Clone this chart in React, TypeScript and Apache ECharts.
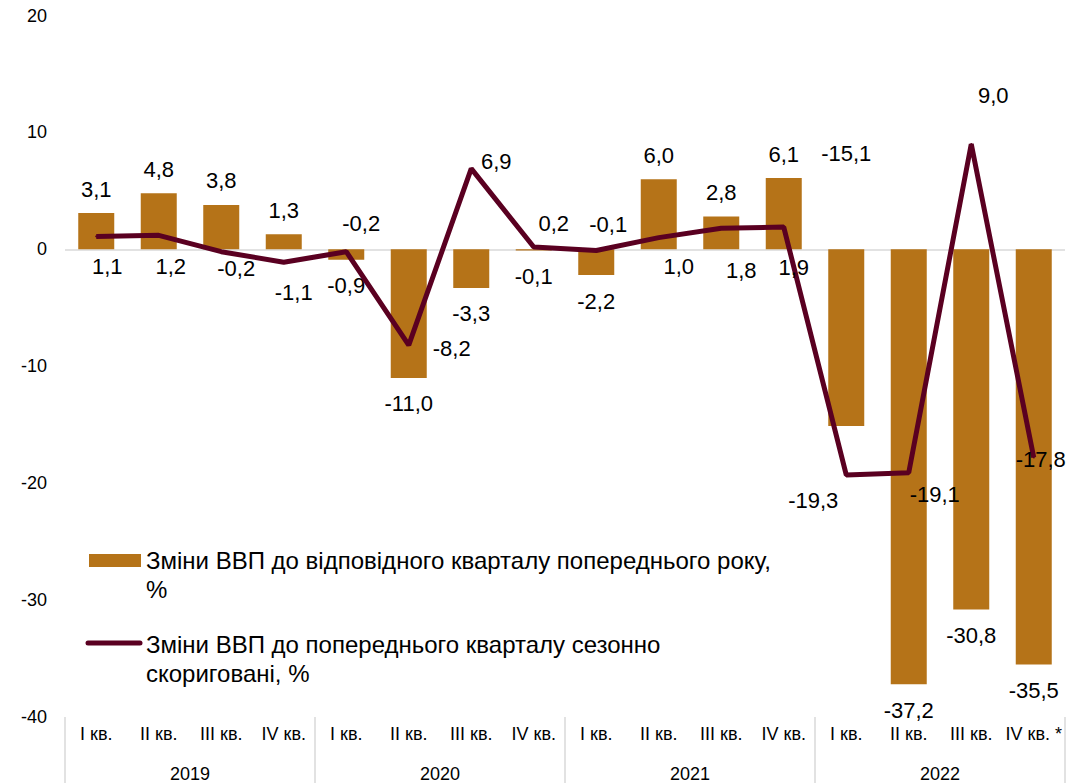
import React, { useEffect, useRef } from "react";
import * as echarts from "echarts";

const quarters = [
  "I кв.", "II кв.", "III кв.", "IV кв.",
  "I кв.", "II кв.", "III кв.", "IV кв.",
  "I кв.", "II кв.", "III кв.", "IV кв.",
  "I кв.", "II кв.", "III кв.", "IV кв. *",
];
const years = ["2019", "2020", "2021", "2022"];
const yoyChange = [3.1, 4.8, 3.8, 1.3, -0.9, -11.0, -3.3, -0.1, -2.2, 6.0, 2.8, 6.1, -15.1, -37.2, -30.8, -35.5];
const qoqChange = [1.1, 1.2, -0.2, -1.1, -0.2, -8.2, 6.9, 0.2, -0.1, 1.0, 1.8, 1.9, -19.3, -19.1, 9.0, -17.8];
const yTicks = { min: -40, max: 20, interval: 10 };

const yoyName = "Зміни ВВП до відповідного кварталу попереднього року,\n%";
const qoqName = "Зміни ВВП до попереднього кварталу сезонно\nскориговані, %";

// label offsets (style only) for line labels, relative to each point
const lineLabelOffsets: [number, number][] = [
  [11, 30], [12, 31], [15, 17], [10, 30],
  [15, -28], [43, 3], [25, -7], [20, -23],
  [12, -26], [20, 29], [20, 42], [10, 40],
  [-33, 26], [26, 22], [22, -49], [7, 2],
];

const BAR_COLOR = "#B57318";
const LINE_COLOR = "#5A0021";
const FONT = '"Liberation Sans", Arial, sans-serif';

const fmt = (v: number) => v.toFixed(1).replace(".", ",");

export default function App() {
  const ref = useRef<HTMLDivElement>(null);
  useEffect(() => {
    if (!ref.current) return;
    const chart = echarts.init(ref.current, undefined, { renderer: "svg" });

    const barData = yoyChange.map((v, i) => {
      const item: any = { value: v };
      if (i === 12) {
        item.label = { position: "top", distance: 85 };
      } else {
        item.label = { position: v >= 0 ? "top" : "bottom", distance: v >= 0 ? 13 : 15 };
      }
      return item;
    });

    const lineData = qoqChange.map((v, i) => ({
      value: v,
      label: { offset: lineLabelOffsets[i] },
    }));

    chart.setOption({
      animation: false,
      grid: { left: 65, right: 22, top: 15.5, bottom: 66, containLabel: false },
      xAxis: [
        {
          type: "category",
          data: quarters,
          position: "bottom",
          axisLine: { show: false },
          axisTick: { show: false },
          axisLabel: { interval: 0, margin: 8, fontSize: 18, color: "#000", fontFamily: FONT },
        },
        {
          type: "category",
          data: years,
          position: "bottom",
          axisLine: { show: false },
          axisTick: { show: true, length: 66, lineStyle: { color: "#d9d9d9", width: 1.5 } },
          axisLabel: { interval: 0, margin: 48, fontSize: 18, color: "#000", fontFamily: FONT },
        },
      ],
      yAxis: {
        type: "value",
        min: yTicks.min,
        max: yTicks.max,
        interval: yTicks.interval,
        axisLine: { show: false },
        axisTick: { show: false },
        splitLine: { show: false },
        axisLabel: { margin: 18, fontSize: 18, color: "#000", fontFamily: FONT },
      },
      series: [
        {
          name: yoyName,
          type: "bar",
          xAxisIndex: 0,
          data: barData,
          barWidth: "57.6%",
          itemStyle: { color: BAR_COLOR },
          label: {
            show: true,
            formatter: (p: any) => fmt(p.value),
            fontSize: 22,
            color: "#000",
            fontFamily: FONT,
          },
          markLine: {
            silent: true,
            symbol: "none",
            label: { show: false },
            lineStyle: { color: "#d9d9d9", width: 1.5, type: "solid" },
            data: [{ yAxis: 0 }],
            z: 1,
          },
          z: 2,
        },
        {
          name: qoqName,
          type: "line",
          xAxisIndex: 0,
          data: lineData,
          symbol: "circle",
          symbolSize: 2,
          showSymbol: true,
          itemStyle: { color: LINE_COLOR },
          lineStyle: { color: LINE_COLOR, width: 5 },
          label: {
            show: true,
            position: "inside",
            align: "center",
            verticalAlign: "middle",
            formatter: (p: any) => fmt(p.value),
            fontSize: 22,
            color: "#000",
            fontFamily: FONT,
          },
          z: 3,
        },
      ],
      graphic: [
        {
          type: "rect",
          shape: { x: 89, y: 554, width: 52, height: 13 },
          style: { fill: BAR_COLOR },
        },
        {
          type: "text",
          x: 146,
          y: 545.5,
          style: {
            text: yoyName,
            font: `24px ${FONT}`,
            fill: "#000",
            lineHeight: 29,
            verticalAlign: "top",
          },
        },
        {
          type: "line",
          shape: { x1: 88, y1: 643, x2: 140, y2: 643 },
          style: { stroke: LINE_COLOR, lineWidth: 5, lineCap: "round" },
        },
        {
          type: "text",
          x: 146,
          y: 629.5,
          style: {
            text: qoqName,
            font: `24px ${FONT}`,
            fill: "#000",
            lineHeight: 29,
            verticalAlign: "top",
          },
        },
      ],
    });
    return () => chart.dispose();
  }, []);
  return (
    <div
      ref={ref}
      style={{ position: "absolute", left: 0, top: 0, width: 1087, height: 783, background: "#fff" }}
    />
  );
}
